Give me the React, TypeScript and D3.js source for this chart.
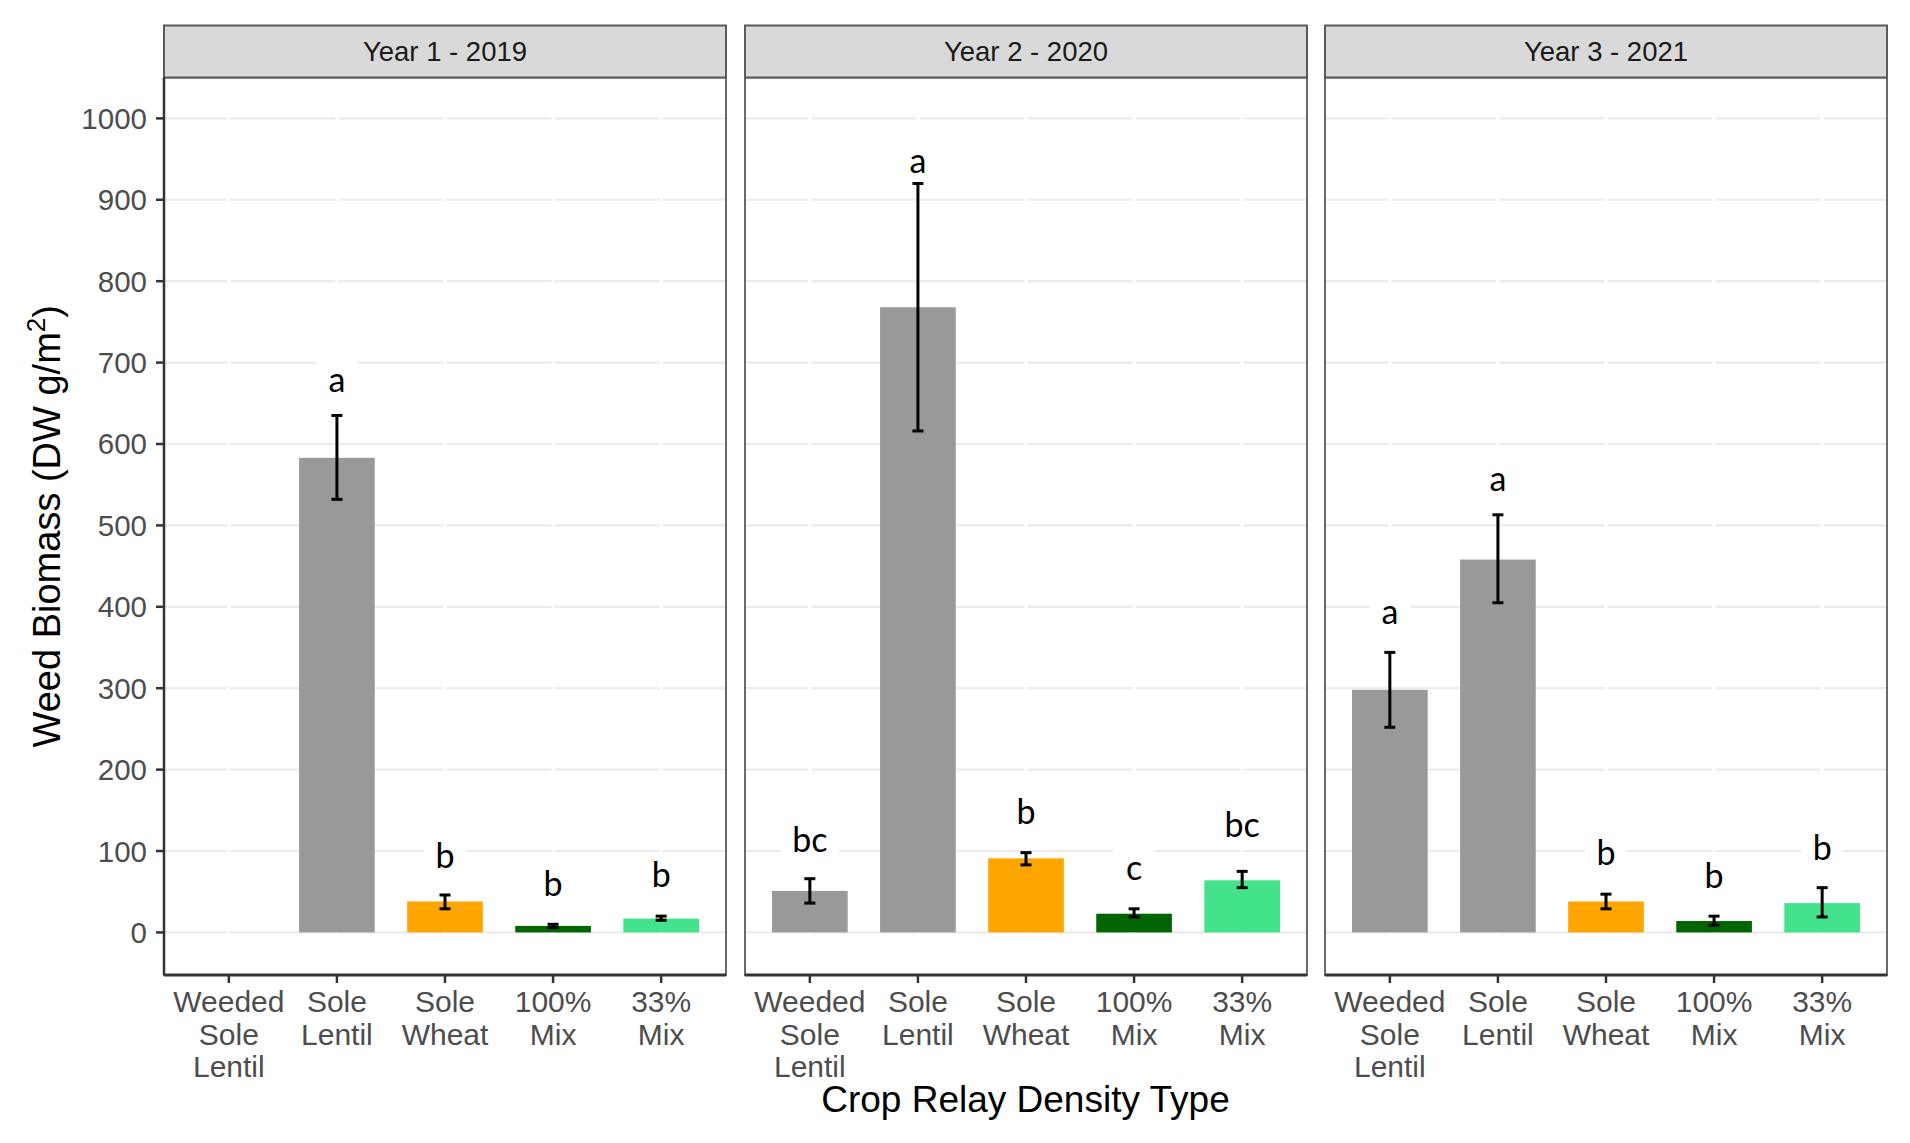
import { useEffect, useRef } from 'react';
import * as d3 from 'd3';

// facet strips
const years = ['Year 1 - 2019', 'Year 2 - 2020', 'Year 3 - 2021'];

// x categories + their wrapped tick labels
const categories = ['Weeded Sole Lentil', 'Sole Lentil', 'Sole Wheat', '100% Mix', '33% Mix'];
const tickLabels = [
  ['Weeded', 'Sole', 'Lentil'],
  ['Sole', 'Lentil'],
  ['Sole', 'Wheat'],
  ['100%', 'Mix'],
  ['33%', 'Mix'],
];
const barColors = ['#999999', '#999999', '#FFA500', '#006400', '#43E38C'];

// mean weed biomass (DW g/m2), null = not measured
const means = [
  [null, 583, 38, 8, 17],
  [51, 768, 91, 23, 64],
  [298, 458, 38, 14, 36],
];
const errLow = [
  [null, 532, 29, 6, 15],
  [36, 616, 83, 19, 55],
  [252, 405, 29, 9, 19],
];
const errHigh = [
  [null, 635, 46, 10, 20],
  [66, 920, 98, 29, 75],
  [344, 513, 47, 20, 55],
];

// significance letters and where they sit (data units)
const letters = [
  [null, 'a', 'b', 'b', 'b'],
  ['bc', 'a', 'b', 'c', 'bc'],
  ['a', 'a', 'b', 'b', 'b'],
];
const letterY = [
  [null, 676, 91, 56, 68],
  [110, 945, 145, 76, 129],
  [391, 554, 95, 66, 101],
];

const yTicks = [0, 100, 200, 300, 400, 500, 600, 700, 800, 900, 1000];

export default function App() {
  const svgRef = useRef<SVGSVGElement>(null);

  useEffect(() => {
    if (!svgRef.current) return;
    const svg = d3.select(svgRef.current);
    svg.selectAll('*').remove();

    const width = 1910;
    const height = 1143;
    const panelX0 = [164, 745, 1325];
    const panelW = 562;
    const stripTop = 25.5;
    const panelTop = 77.5;
    const panelBottom = 975;
    const tickFont = '"Liberation Sans", Arial, sans-serif';

    svg.append('rect').attr('width', width).attr('height', height).attr('fill', '#fff');

    const y = d3.scaleLinear().domain([-52.3, 1050.2]).range([panelBottom, panelTop]);

    years.forEach((year, p) => {
      const x0 = panelX0[p];
      const x = d3
        .scalePoint<string>()
        .domain(categories)
        .range([x0, x0 + panelW])
        .padding(0.6);
      const bw = x.step() * 0.7;
      const g = svg.append('g');

      // panel background
      g.append('rect')
        .attr('x', x0)
        .attr('y', panelTop)
        .attr('width', panelW)
        .attr('height', panelBottom - panelTop)
        .attr('fill', '#fff');

      // horizontal grid
      g.selectAll('.hgrid')
        .data(yTicks)
        .enter()
        .append('line')
        .attr('x1', x0)
        .attr('x2', x0 + panelW)
        .attr('y1', (d) => y(d))
        .attr('y2', (d) => y(d))
        .attr('stroke', '#EBEBEB')
        .attr('stroke-width', 2.2);

      // white vertical grid (breaks the horizontal lines)
      g.selectAll('.vgrid')
        .data(categories)
        .enter()
        .append('line')
        .attr('x1', (d) => x(d)!)
        .attr('x2', (d) => x(d)!)
        .attr('y1', panelTop)
        .attr('y2', panelBottom)
        .attr('stroke', '#fff')
        .attr('stroke-width', 3);

      const rows = categories.map((c, i) => ({
        cat: c,
        mean: means[p][i],
        lo: errLow[p][i],
        hi: errHigh[p][i],
        letter: letters[p][i],
        ly: letterY[p][i],
        color: barColors[i],
      }));
      const present = rows.filter((r) => r.mean !== null);

      // bars
      g.selectAll('.bar')
        .data(present)
        .enter()
        .append('rect')
        .attr('x', (d) => x(d.cat)! - bw / 2)
        .attr('y', (d) => y(d.mean as number))
        .attr('width', bw)
        .attr('height', (d) => y(0) - y(d.mean as number))
        .attr('fill', (d) => d.color);

      // error bars
      const eb = g
        .selectAll('.err')
        .data(present)
        .enter()
        .append('g')
        .attr('stroke', '#000')
        .attr('stroke-width', 3);
      eb.append('line')
        .attr('x1', (d) => x(d.cat)!)
        .attr('x2', (d) => x(d.cat)!)
        .attr('y1', (d) => y(d.lo as number))
        .attr('y2', (d) => y(d.hi as number));
      eb.append('line')
        .attr('x1', (d) => x(d.cat)! - 5.5)
        .attr('x2', (d) => x(d.cat)! + 5.5)
        .attr('y1', (d) => y(d.lo as number))
        .attr('y2', (d) => y(d.lo as number));
      eb.append('line')
        .attr('x1', (d) => x(d.cat)! - 5.5)
        .attr('x2', (d) => x(d.cat)! + 5.5)
        .attr('y1', (d) => y(d.hi as number))
        .attr('y2', (d) => y(d.hi as number));

      // letters with white backing
      const lab = g
        .selectAll('.lab')
        .data(present)
        .enter()
        .append('g');
      lab.append('rect')
        .attr('x', (d) => x(d.cat)! - ((d.letter as string).length * 17 + 24) / 2)
        .attr('y', (d) => y(d.ly as number) - 22)
        .attr('width', (d) => (d.letter as string).length * 17 + 24)
        .attr('height', 38)
        .attr('fill', '#fff');
      lab.append('text')
        .attr('x', (d) => x(d.cat)!)
        .attr('y', (d) => y(d.ly as number) - 4)
        .attr('text-anchor', 'middle')
        .attr('dominant-baseline', 'central')
        .style('font-family', 'Lato, "Open Sans", sans-serif')
        .style('font-size', '34px')
        .style('fill', '#000')
        .text((d) => d.letter as string);

      // panel border
      g.append('rect')
        .attr('x', x0)
        .attr('y', panelTop)
        .attr('width', panelW)
        .attr('height', panelBottom - panelTop)
        .attr('fill', 'none')
        .attr('stroke', '#6a6a6a')
        .attr('stroke-width', 2);

      // strip
      g.append('rect')
        .attr('x', x0)
        .attr('y', stripTop)
        .attr('width', panelW)
        .attr('height', panelTop - stripTop)
        .attr('fill', '#D9D9D9')
        .attr('stroke', '#5a5a5a')
        .attr('stroke-width', 2);
      g.append('text')
        .attr('x', x0 + panelW / 2)
        .attr('y', (stripTop + panelTop) / 2)
        .attr('text-anchor', 'middle')
        .attr('dominant-baseline', 'central')
        .style('font-family', tickFont)
        .style('font-size', '27.5px')
        .style('fill', '#1A1A1A')
        .text(year);

      // x axis line + ticks
      g.append('line')
        .attr('x1', x0)
        .attr('x2', x0 + panelW)
        .attr('y1', panelBottom)
        .attr('y2', panelBottom)
        .attr('stroke', '#333')
        .attr('stroke-width', 3);
      g.selectAll('.xt')
        .data(categories)
        .enter()
        .append('line')
        .attr('x1', (d) => x(d)!)
        .attr('x2', (d) => x(d)!)
        .attr('y1', panelBottom)
        .attr('y2', panelBottom + 8)
        .attr('stroke', '#333')
        .attr('stroke-width', 2.5);

      // wrapped tick labels
      const tl = g
        .selectAll('.xl')
        .data(categories)
        .enter()
        .append('text')
        .attr('text-anchor', 'middle')
        .style('font-family', tickFont)
        .style('font-size', '30px')
        .style('fill', '#4D4D4D');
      tl.each(function (d, i) {
        const t = d3.select(this);
        tickLabels[i].forEach((line, k) => {
          t.append('tspan')
            .attr('x', x(d)!)
            .attr('y', 1012 + k * 32.5)
            .text(line);
        });
      });

      // y axis only on first panel
      if (p === 0) {
        g.append('line')
          .attr('x1', x0)
          .attr('x2', x0)
          .attr('y1', panelTop)
          .attr('y2', panelBottom)
          .attr('stroke', '#333')
          .attr('stroke-width', 2.5);
        g.selectAll('.yt')
          .data(yTicks)
          .enter()
          .append('line')
          .attr('x1', x0 - 8)
          .attr('x2', x0)
          .attr('y1', (d) => y(d))
          .attr('y2', (d) => y(d))
          .attr('stroke', '#333')
          .attr('stroke-width', 2.5);
        g.selectAll('.yl')
          .data(yTicks)
          .enter()
          .append('text')
          .attr('x', x0 - 17)
          .attr('y', (d) => y(d))
          .attr('text-anchor', 'end')
          .attr('dominant-baseline', 'central')
          .style('font-family', tickFont)
          .style('font-size', '29.5px')
          .style('fill', '#4D4D4D')
          .text((d) => String(d));
      }
    });

    // axis titles
    svg.append('text')
      .attr('x', (panelX0[0] + panelX0[2] + panelW) / 2)
      .attr('y', 1112)
      .attr('text-anchor', 'middle')
      .style('font-family', tickFont)
      .style('font-size', '37px')
      .style('fill', '#000')
      .text('Crop Relay Density Type');

    const yt = svg
      .append('text')
      .attr('transform', `translate(60,${(panelTop + panelBottom) / 2}) rotate(-90)`)
      .attr('text-anchor', 'middle')
      .style('font-family', tickFont)
      .style('font-size', '38px')
      .style('fill', '#000');
    yt.append('tspan').text('Weed Biomass (DW g/m');
    yt.append('tspan').attr('dy', -15).style('font-size', '26px').text('2');
    yt.append('tspan').attr('dy', 15).text(')');
  }, []);

  return (
    <svg
      ref={svgRef}
      width={1910}
      height={1143}
      style={{ position: 'absolute', left: 0, top: 0 }}
    ></svg>
  );
}
